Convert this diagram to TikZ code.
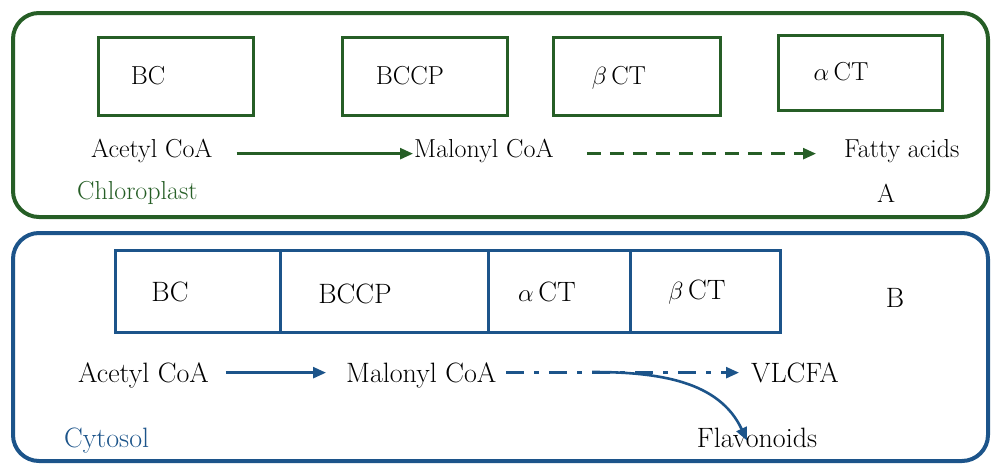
\documentclass[tikz,border=0pt]{standalone}
\usepackage{tikz}
\usetikzlibrary{arrows.meta, positioning, calc}
\definecolor{chlgreen}{RGB}{38,94,38}
\definecolor{cytblue}{RGB}{28,84,138}

\begin{document}
\begin{tikzpicture}[
  x=1pt, y=-1pt,
  >={Triangle[length=13pt,width=11pt]},
  compart/.style={draw, line width=4pt, rounded corners=26pt},
  enzbox/.style={draw, line width=3pt, minimum width=#1, inner sep=0pt},
  txtA/.style={inner sep=1pt, text height=0.72em, text depth=0.25em, font=\fontsize{26}{30}\selectfont},
  txtB/.style={inner sep=1pt, text height=0.72em, text depth=0.25em, font=\fontsize{28}{32}\selectfont},
  flow/.style={->, line width=2.6pt}
  ]
  \useasboundingbox (0,0) rectangle (991,466);

  % A: chloroplast
  \draw[compart, chlgreen] (13,13) rectangle (988,217);
  \node[enzbox=155pt, minimum height=78pt, chlgreen] (bcA) at (175.5,76) {};
  \node[enzbox=165pt, minimum height=78pt, chlgreen] (bccpA) at (424.5,76) {};
  \node[enzbox=167pt, minimum height=78pt, chlgreen] (bctA) at (636.5,76) {};
  \node[enzbox=164pt, minimum height=75pt, chlgreen] (actA) at (860,72.5) {};
  \node[txtA] (bcAt) at (148,82) {BC};
  \node[txtA] (bccpAt) at (410,82) {BCCP};
  \node[txtA] (bctAt) at (619,82) {$\beta$\,CT};
  \node[txtA] (actAt) at (841,78) {$\alpha$\,CT};
  \node[txtA, anchor=base west] (acetA) at (90,157) {Acetyl CoA};
  \node[txtA, anchor=base west] (malA) at (413,157) {Malonyl CoA};
  \node[txtA, anchor=base west] (fatty) at (843,157) {Fatty acids};
  \node[txtA, anchor=base west, chlgreen] (chloro) at (76,199) {Chloroplast};
  \node[txtA, anchor=base] (labA) at (886,202) {A};
  \draw[flow, chlgreen] ([xshift=23pt,yshift=1pt]acetA.east) -- ([yshift=1pt]malA.west);
  \draw[flow, chlgreen, dash pattern=on 14pt off 9pt] ([xshift=32pt,yshift=1pt]malA.east) -- ([xshift=-27pt,yshift=1pt]fatty.west);

  % B: cytosol
  \draw[compart, cytblue] (13,233) rectangle (988,461);
  \node[enzbox=165pt, minimum height=82pt, cytblue] (bcB) at (197.5,291) {};
  \node[enzbox=208pt, minimum height=82pt, cytblue] (bccpB) at (384,291) {};
  \node[enzbox=142pt, minimum height=82pt, cytblue] (actB) at (559,291) {};
  \node[enzbox=150pt, minimum height=82pt, cytblue] (bctB) at (705,291) {};
  \node[txtB] (bcBt) at (170,299) {BC};
  \node[txtB] (bccpBt) at (355,301) {BCCP};
  \node[txtB] (actBt) at (547,299) {$\alpha$\,CT};
  \node[txtB] (bctBt) at (697,297) {$\beta$\,CT};
  \node[txtB] (labB) at (895,305) {B};
  \node[txtB, anchor=base west] (acetB) at (77,382) {Acetyl CoA};
  \node[txtB, anchor=base west] (malB) at (345,382) {Malonyl CoA};
  \node[txtB, anchor=base west] (vlcfa) at (750,382) {VLCFA};
  \node[txtB, anchor=base] (flav) at (757,447) {Flavonoids};
  \node[txtB, anchor=base west, cytblue] (cyto) at (63,447) {Cytosol};
  \coordinate (split) at (592,372);
  \draw[flow, cytblue] ([xshift=16pt,yshift=7pt]acetB.east) -- ([xshift=-19pt,yshift=7pt]malB.west);
  \draw[flow, cytblue, dash pattern=on 18pt off 10pt on 5pt off 10pt] ([xshift=9pt,yshift=7pt]malB.east) -- ([xshift=-11pt,yshift=7pt]vlcfa.west);
  \draw[flow, cytblue] (split) to[out=0, in=115] ([xshift=-10pt,yshift=-2pt]flav.north);
\end{tikzpicture}
\end{document}
